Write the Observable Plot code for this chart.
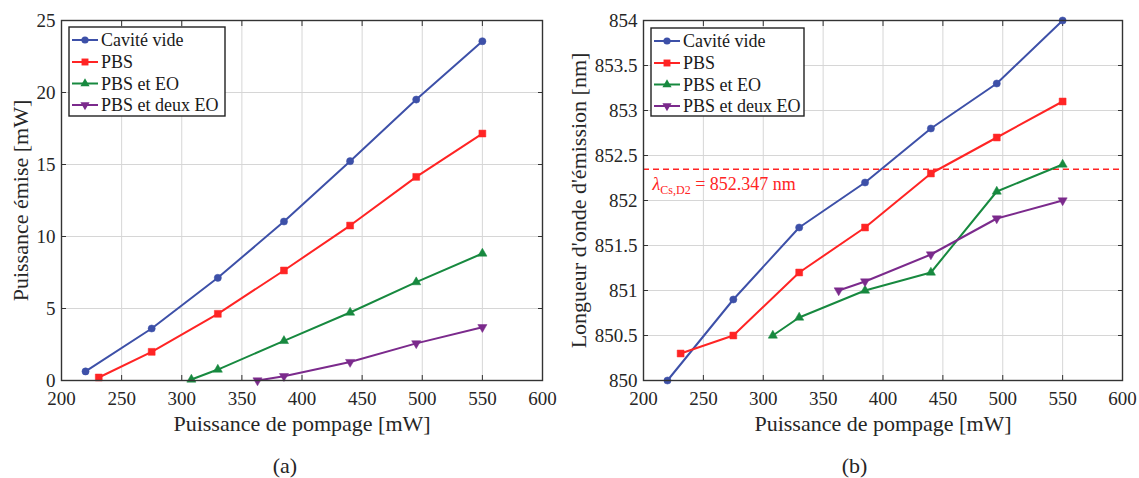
<!DOCTYPE html>
<html>
<head>
<meta charset="utf-8">
<script src="https://cdn.jsdelivr.net/npm/d3@7"></script>
<script src="https://cdn.jsdelivr.net/npm/@observablehq/plot@0.6"></script>
<style>
  html, body { margin: 0; padding: 0; background: #fff; }
  #wrap { position: relative; width: 1139px; height: 478px; font-family: 'Liberation Serif', 'Times New Roman', serif; color: #262626; }
  #wrap svg, #wrap svg g, #wrap svg text { font-family: 'Liberation Serif', 'Times New Roman', serif !important; }
  .cap { position: absolute; top: 452px; font-size: 22px; text-align: center; line-height: 28px; }
</style>
</head>
<body>
<div id="wrap">
  <div id="pa" style="position:absolute;left:0;top:0;"></div>
  <div id="pb" style="position:absolute;left:570px;top:0;"></div>
  <div class="cap" style="left:0;width:570px;">(a)</div>
  <div class="cap" style="left:570px;width:569px;">(b)</div>
</div>
<script>
// ---------- data ----------
const seriesNames = ["Cavité vide", "PBS", "PBS et EO", "PBS et deux EO"];
const seriesColors = ["#3d50a8", "#ff2424", "#17893f", "#7b2a8c"];
const seriesSymbols = ["circle", "square", "triangle", "triangle"];
const seriesRotate = [0, 0, 0, 180];
const seriesR = [3.6, 3.9, 3.4, 3.4];

const cavX = [220, 275, 330, 385, 440, 495, 550];
const pbsX = [231, 275, 330, 385, 440, 495, 550];
const eoX  = [308, 330, 385, 440, 495, 550];
const deoX = [363, 385, 440, 495, 550];

// (a) Puissance émise [mW]
const cavP = [0.63, 3.61, 7.13, 11.04, 15.23, 19.51, 23.56];
const pbsP = [0.21, 1.99, 4.63, 7.64, 10.76, 14.14, 17.15];
const eoP  = [0.07, 0.76, 2.75, 4.72, 6.83, 8.82];
const deoP = [0.0, 0.3, 1.28, 2.58, 3.7];

// (b) Longueur d'onde d'émission [nm]
const cavL = [850.0, 850.9, 851.7, 852.2, 852.8, 853.3, 854.0];
const pbsL = [850.3, 850.5, 851.2, 851.7, 852.3, 852.7, 853.1];
const eoL  = [850.5, 850.7, 851.0, 851.2, 852.1, 852.4];
const deoL = [851.0, 851.1, 851.4, 851.8, 852.0];

const lambdaCs = 852.347;

const xTicks = [200, 250, 300, 350, 400, 450, 500, 550, 600];
const yTicksA = [0, 5, 10, 15, 20, 25];
const yTicksB = [850, 850.5, 851, 851.5, 852, 852.5, 853, 853.5, 854];

const xLabel = "Puissance de pompage [mW]";
const yLabelA = "Puissance émise [mW]";
const yLabelB = "Longueur d'onde d'émission [nm]";
const lambdaText = "λCs,D2 = 852.347 nm";

const xs = [cavX, pbsX, eoX, deoX];
const ysA = [cavP, pbsP, eoP, deoP];
const ysB = [cavL, pbsL, eoL, deoL];

function makeRows(ys) {
  return seriesNames.map((name, i) => xs[i].map((x, j) => ({name, x, y: ys[i][j]})));
}

const FONT = "'Liberation Serif', 'Times New Roman', serif";

function panel({width, marginLeft, marginRight, yDomain, yTicks, yLabel, ylabelDx, rows, extra = []}) {
  const seriesMarks = [];
  rows.forEach((data, i) => {
    seriesMarks.push(Plot.line(data, {x: "x", y: "y", stroke: seriesColors[i], strokeWidth: 2}));
  });
  rows.forEach((data, i) => {
    seriesMarks.push(Plot.dot(data, {x: "x", y: "y", fill: seriesColors[i], stroke: seriesColors[i], strokeWidth: 0.5,
      symbol: seriesSymbols[i], r: seriesR[i], rotate: seriesRotate[i]}));
  });
  const blank = () => "";
  return Plot.plot({
    width, height: 478,
    marginTop: 20, marginBottom: 98, marginLeft, marginRight,
    x: {domain: [200, 600]},
    y: {domain: yDomain},
    style: {fontFamily: FONT, fontSize: "19px", color: "#262626", background: "transparent", overflow: "visible"},
    marks: [
      Plot.gridX(xTicks, {stroke: "#d6d6d6", strokeOpacity: 1}),
      Plot.gridY(yTicks, {stroke: "#d6d6d6", strokeOpacity: 1}),
      Plot.axisX(xTicks, {tickSize: 0, tickPadding: 11, label: null, fontSize: 19, fontFamily: FONT}),
      Plot.axisX(xTicks, {anchor: "bottom", tickSize: -5, tickFormat: blank, label: null, stroke: "#333"}),
      Plot.axisX(xTicks, {anchor: "top", tickSize: -5, tickFormat: blank, label: null, stroke: "#333"}),
      Plot.axisY(yTicks, {tickSize: 0, tickPadding: 6, label: null, fontSize: 19, fontFamily: FONT, tickFormat: d => String(d)}),
      Plot.axisY(yTicks, {anchor: "left", tickSize: -5, tickFormat: blank, label: null, stroke: "#333"}),
      Plot.axisY(yTicks, {anchor: "right", tickSize: -5, tickFormat: blank, label: null, stroke: "#333"}),
      ...extra,
      ...seriesMarks,
      Plot.frame({stroke: "#333", strokeWidth: 1.4}),
      Plot.text([xLabel], {text: d => d, frameAnchor: "bottom", lineAnchor: "middle", dy: 43, fontSize: 22, fontFamily: FONT, fill: "#262626"}),
      Plot.text([yLabel], {text: d => d, frameAnchor: "left", textAnchor: "middle", lineAnchor: "middle", rotate: -90, dx: ylabelDx, fontSize: 22, fontFamily: FONT, fill: "#262626"})
    ]
  });
}

const plotA = panel({
  width: 570, marginLeft: 61, marginRight: 28,
  yDomain: [0, 25], yTicks: yTicksA, yLabel: yLabelA, ylabelDx: -41,
  rows: makeRows(ysA)
});
document.getElementById("pa").appendChild(plotA);

const plotB = panel({
  width: 569, marginLeft: 73, marginRight: 17,
  yDomain: [850, 854], yTicks: yTicksB, yLabel: yLabelB, ylabelDx: -65,
  rows: makeRows(ysB),
  extra: [
    Plot.ruleY([lambdaCs], {stroke: "#ff2424", strokeWidth: 1.6, strokeDasharray: "6,4"}),
    Plot.text([lambdaCs], {y: d => d, text: () => lambdaText, frameAnchor: "left", dx: 9, dy: 15,
      textAnchor: "start", fontSize: 18, fontFamily: FONT, fill: "#ff2424"})
  ]
});
document.getElementById("pb").appendChild(plotB);

// rich text for lambda label (italic λ, subscript)
d3.select(plotB).selectAll("text").each(function () {
  if (this.textContent === lambdaText) {
    const t = d3.select(this);
    t.text(null);
    t.append("tspan").attr("font-style", "italic").text("λ");
    t.append("tspan").attr("font-size", 12).attr("dy", 4).text("Cs,D2");
    t.append("tspan").attr("dy", -4).text(" = 852.347 nm");
  }
});

// ---------- legends ----------
function legend(parent, left, top, w, h) {
  const svg = d3.select(parent).append("svg")
    .attr("width", w + 2).attr("height", h + 2)
    .style("position", "absolute").style("left", (left - 1) + "px").style("top", (top - 1) + "px")
    .style("overflow", "visible");
  svg.append("rect").attr("x", 1).attr("y", 1).attr("width", w).attr("height", h)
    .attr("fill", "white").attr("stroke", "#222").attr("stroke-width", 1.4);
  const rowY = [13, 35, 56.5, 78];
  const symMap = {circle: d3.symbolCircle, square: d3.symbolSquare, triangle: d3.symbolTriangle};
  seriesNames.forEach((name, i) => {
    const g = svg.append("g").attr("transform", `translate(1,${1 + rowY[i]})`);
    g.append("line").attr("x1", 3).attr("x2", 29).attr("y1", 0).attr("y2", 0)
      .attr("stroke", seriesColors[i]).attr("stroke-width", 2);
    g.append("path")
      .attr("d", d3.symbol(symMap[seriesSymbols[i]], Math.PI * seriesR[i] * seriesR[i])())
      .attr("transform", `translate(16,0) rotate(${seriesRotate[i]})`)
      .attr("fill", seriesColors[i]);
    g.append("text").attr("x", 32).attr("y", 0).attr("dy", "0.35em")
      .attr("font-family", FONT).attr("font-size", 18).attr("fill", "#1a1a1a").text(name);
  });
}
legend(document.getElementById("wrap"), 69, 27, 156, 89);
legend(document.getElementById("wrap"), 651, 28, 153, 88);
</script>
</body>
</html>
